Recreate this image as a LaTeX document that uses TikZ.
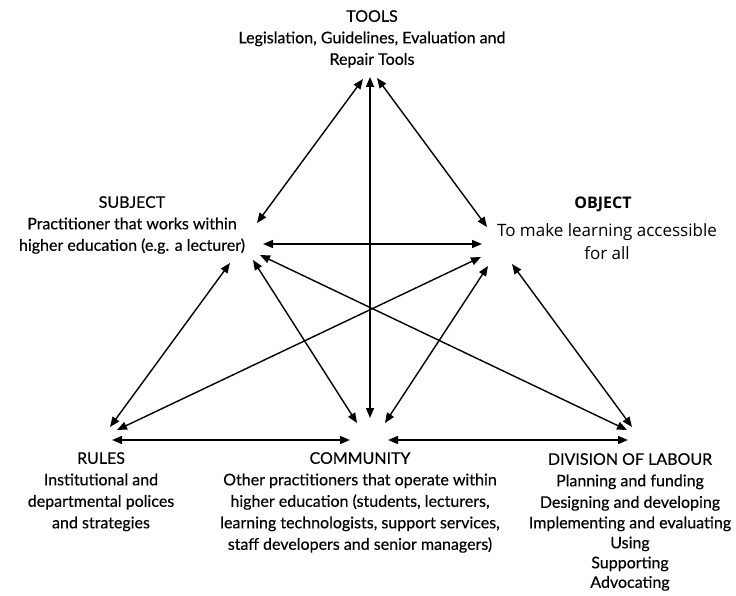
\documentclass[tikz,border=0pt]{standalone}
\usepackage{fontspec}
\setmainfont{Lato}[FakeBold=0.3]
\newfontfamily\objfont{Open Sans}
\usetikzlibrary{arrows.meta}
\tikzset{%
	txt/.style     = {align=center, inner sep=0pt, anchor=north,
		font=\fontsize{16}{21.5}\selectfont}, % Text block
	objtxt/.style  = {txt, font=\objfont\fontsize{17}{23}\selectfont},
	biarrow/.style = {line width=1.4pt,
		{Triangle[length=10pt,width=8pt]}-{Triangle[length=10pt,width=8pt]}} % Double arrow
}

\begin{document}
\begin{tikzpicture}[x=1pt,y=-1pt]
			\useasboundingbox[fill=white] (0,0) rectangle (736,596);
			
			\node[txt]    (tools)     at (372,10)  {TOOLS\\Legislation, Guidelines, Evaluation and\\Repair Tools};
			\node[txt]    (subject)   at (132,196) {SUBJECT\\Practitioner that works within\\higher education (e.g. a lecturer)};
			\node[objtxt,font=\objfont\bfseries\fontsize{16}{23}\selectfont] (object) at (603,197) {OBJECT};
			\node[objtxt] (objtext)   at (607,223) {To make learning accessible\\for all};
			\node[txt]    (rules)     at (101,452) {RULES\\Institutional and\\departmental polices\\and strategies};
			\node[txt]    (community) at (360,452) {COMMUNITY\\Other practitioners that operate within\\higher education (students, lecturers,\\learning technologists, support services,\\staff developers and senior managers)};
			\node[txt]    (labour)    at (630,453) {DIVISION OF LABOUR\\Planning and funding\\Designing and developing\\[-1pt]Implementing and evaluating\\[-1.5pt]Using\\[-1.5pt]Supporting\\[-2pt]Advocating};
			
			% arrow ends round the tools
			\coordinate (tS) at (363,79);
			\coordinate (tC) at (370,77);
			\coordinate (tO) at (377,78);
			% arrow ends round the subject
			\coordinate (sT) at (257,223);
			\coordinate (sO) at (263,244);
			\coordinate (sD) at (260,255);
			\coordinate (sC) at (253,260);
			\coordinate (sR) at (230,263);
			% arrow ends round the object
			\coordinate (oT) at (487,227);
			\coordinate (oS) at (482,244);
			\coordinate (oR) at (481,257);
			\coordinate (oC) at (488,266);
			\coordinate (oD) at (512,264);
			% arrow ends round the rules
			\coordinate (rS) at (110,427);
			\coordinate (rO) at (117,430);
			\coordinate (rC) at (112,440);
			% arrow ends round the community
			\coordinate (cS) at (357,423);
			\coordinate (cT) at (370,418);
			\coordinate (cO) at (385,423);
			\coordinate (cR) at (350,440);
			\coordinate (cD) at (388,440);
			% arrow ends round the division of labour
			\coordinate (dS) at (627,430);
			\coordinate (dO) at (632,427);
			\coordinate (dC) at (628,440);
			
			\draw[biarrow] (tS) -- (sT);
			\draw[biarrow] (tC) -- (cT);
			\draw[biarrow] (tO) -- (oT);
			\draw[biarrow] (sO) -- (oS);
			\draw[biarrow] (sR) -- (rS);
			\draw[biarrow] (sC) -- (cS);
			\draw[biarrow] (sD) -- (dS);
			\draw[biarrow] (oR) -- (rO);
			\draw[biarrow] (oC) -- (cO);
			\draw[biarrow] (oD) -- (dO);
			\draw[biarrow] (rC) -- (cR);
			\draw[biarrow] (cD) -- (dC);
		\end{tikzpicture}
\end{document}
